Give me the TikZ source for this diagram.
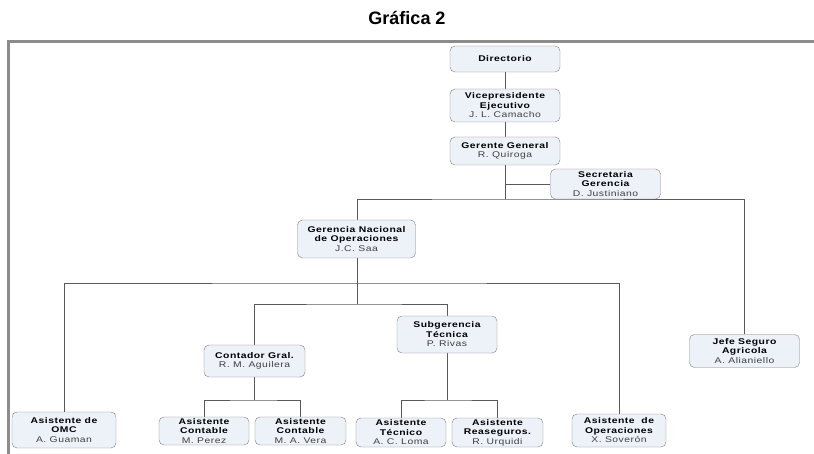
\documentclass[tikz,border=0pt]{standalone}
\usepackage{fontspec}
\setmainfont{Liberation Sans}
\newfontfamily\boxfont[FakeStretch=1.25,LetterSpace=6]{Liberation Sans}
\usetikzlibrary{positioning,backgrounds}
\definecolor{boxfill}{HTML}{EDF1F8}
\colorlet{boxline}{black!50}
\colorlet{linkc}{black!65}
\colorlet{framec}{black!45}
\colorlet{whoc}{black!75}
\newcommand{\who}[1]{{\mdseries\color{whoc}#1}}

\begin{document}
\begin{tikzpicture}[
        x=1pt, y=-1pt,
        cargo/.style={
            draw=boxline, fill=boxfill, rounded corners=5pt,
            align=center, inner sep=0.5pt,
            font=\boxfont\fontsize{8.3}{9.5}\selectfont\bfseries
        },
        link/.style={linkc, line width=0.9pt}
    ]
            \useasboundingbox (0,0) rectangle (814,454);
            \node[font=\bfseries\fontsize{18}{18}\selectfont] (titulo) at (407,18) {Gráfica 2};
            \draw[framec, line width=3pt] (8.5,454) -- (8.5,42) -- (814,42);

            % direccion
            \node[cargo, minimum width=110, minimum height=26] (dir) at (505,59) {Directorio};
            \node[cargo, minimum width=110, minimum height=33] (vp) at (505,105.5)
                {Vicepresidente\\Ejecutivo\\\who{J. L. Camacho}};
            \node[cargo, minimum width=110, minimum height=28] (gg) at (505,151)
                {Gerente General\\\who{R. Quiroga}};
            \node[cargo, minimum width=110, minimum height=30] (sec) at (605.5,184)
                {Secretaria\\Gerencia\\\who{D. Justiniano}};

            % segundo nivel
            \node[cargo, minimum width=118, minimum height=38] (gna) at (356.5,239)
                {Gerencia Nacional\\de Operaciones\\\who{J.C. Saa}};
            \node[cargo, minimum width=110, minimum height=33] (jefe) at (744.5,351)
                {Jefe Seguro\\Agricola\\\who{A. Alianiello}};
            \node[cargo, minimum width=100, minimum height=37] (sub) at (447,334.5)
                {Subgerencia\\Técnica\\\who{P. Rivas}};
            \node[cargo, minimum width=101, minimum height=32] (cont) at (254.5,361)
                {Contador Gral.\\\who{R. M. Aguilera}};

            % asistentes
            \node[cargo, minimum width=104, minimum height=36] (omc) at (64,430)
                {Asistente de\\OMC\\\who{A. Guaman}};
            \node[cargo, minimum width=90, minimum height=28] (ac1) at (204,431)
                {Asistente\\Contable\\\who{M. Perez}};
            \node[cargo, minimum width=91, minimum height=28] (ac2) at (300.5,431)
                {Asistente\\Contable\\\who{M. A. Vera}};
            \node[cargo, minimum width=90, minimum height=29] (at) at (401,432.5)
                {Asistente\\Técnico\\\who{A. C. Loma}};
            \node[cargo, minimum width=91, minimum height=29] (ar) at (497.5,432.5)
                {Asistente\\Reaseguros.\\\who{R. Urquidi}};
            \node[cargo, minimum width=94, minimum height=33] (aop) at (619,430.5)
                {Asistente\ \ de\\Operaciones\\\who{X. Soverón}};

            \coordinate (top) at (505,199);
            \coordinate (mid) at (357,283);
            \coordinate (low) at (357,304);
            \coordinate (cj) at (254.5,400);
            \coordinate (sj) at (447,400);

            \begin{scope}[on background layer]
                \draw[link] (dir) -- (vp);
                \draw[link] (vp) -- (gg);
                \draw[link] (gg.south) -- (top);
                \draw[link] (gg.south |- sec.west) -- (sec.west);
                \draw[link] (gna.north -| mid) |- (top) -| (jefe.north);
                \draw[link] (gna.south -| mid) -- (low);
                \draw[link] (omc.north) |- (mid) -| (aop.north);
                \draw[link] (cont.north) |- (low) -| (sub.north);
                \draw[link] (cont) -- (cj);
                \draw[link] (ac1.north) |- (cj) -| (ac2.north);
                \draw[link] (sub) -- (sj);
                \draw[link] (at.north) |- (sj) -| (ar.north);
            \end{scope}
        \end{tikzpicture}
\end{document}
